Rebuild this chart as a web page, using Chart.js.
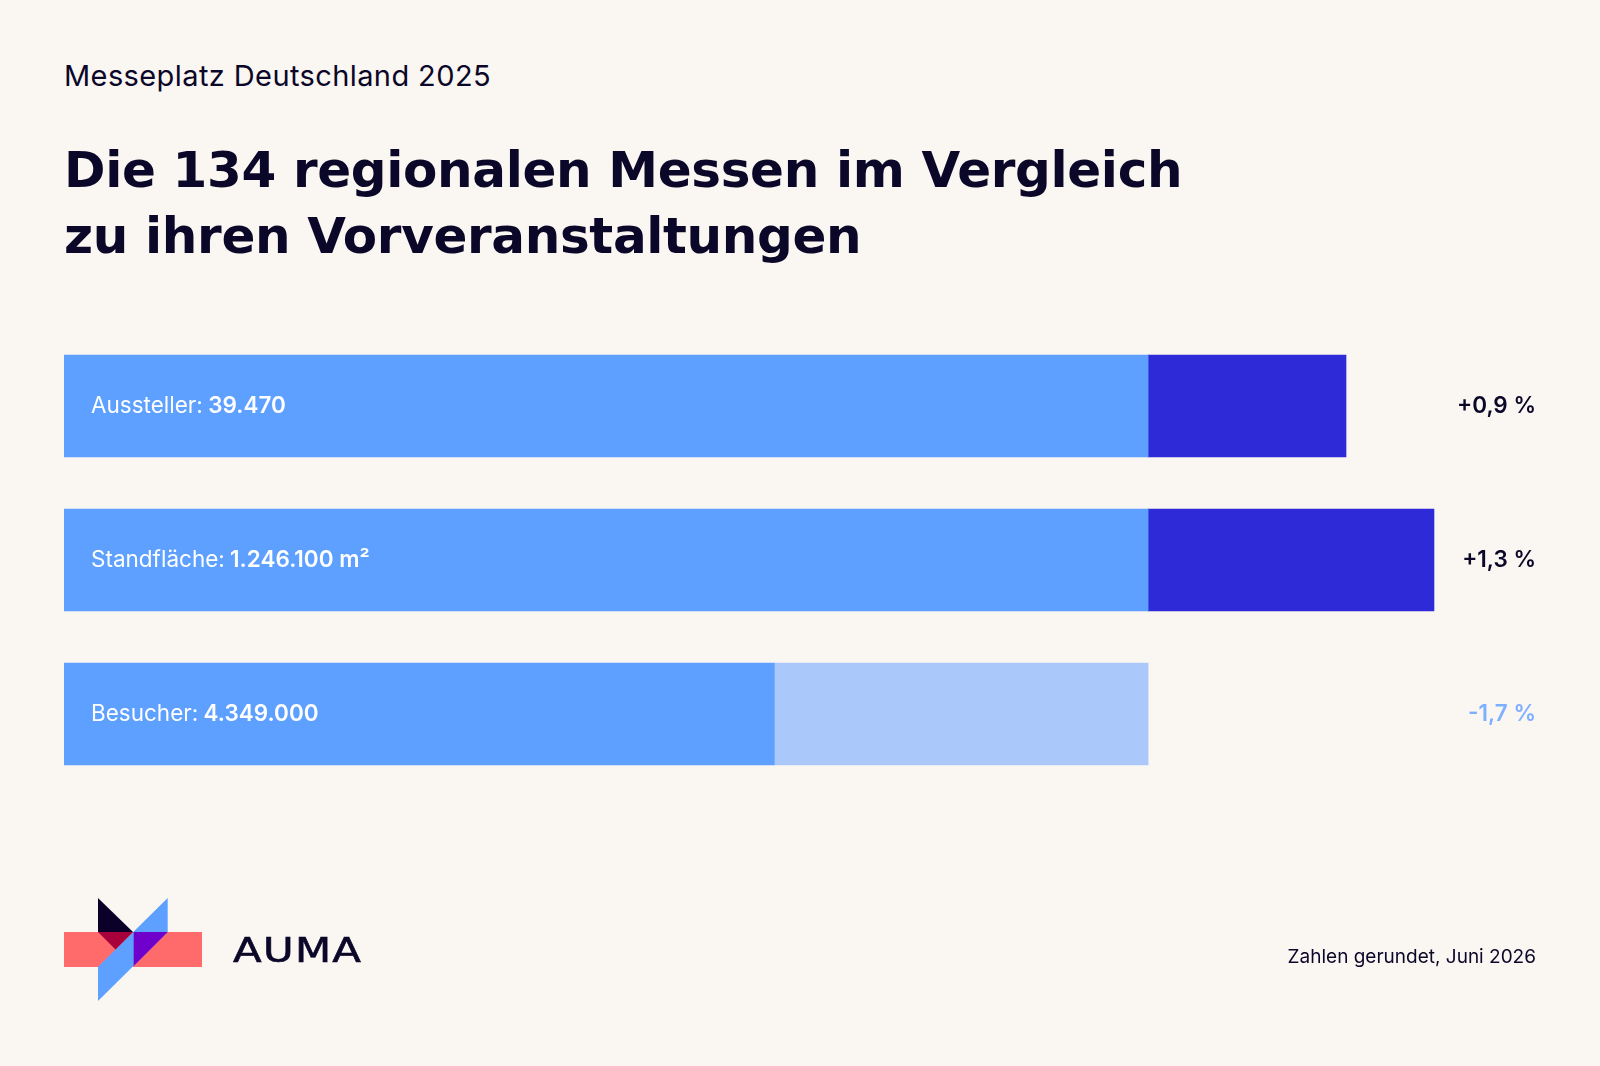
<!DOCTYPE html>
<html>
<head>
<meta charset="utf-8">
<script src="https://cdn.jsdelivr.net/npm/chart.js@4"></script>
<style>
  body { margin: 0; background: #faf6f2; }
  #page { position: relative; width: 1600px; height: 1066px; overflow: hidden; background: #faf6f2; color: #0b0728; }
  #chart { position: absolute; left: 0; top: 0; }
  .sub { position: absolute; left: 64px; top: 61px; font: 400 29px/1 Inter, sans-serif; letter-spacing: 0.4px; }
  .title { position: absolute; left: 64px; top: 137px; font: 700 50px/66px "DejaVu Sans", sans-serif; letter-spacing: -0.35px; }
  .note { position: absolute; right: 64px; top: 947px; font: 400 19px/1 Inter, sans-serif; }
  .brand { position: absolute; left: 233px; top: 934px; font: 400 33px/1 "DejaVu Sans", sans-serif;
           letter-spacing: 1px; transform: scaleX(1.27); transform-origin: left top; -webkit-text-stroke: 0.6px #0b0728; }
  #logo { position: absolute; left: 0; top: 0; }
</style>
</head>
<body>
<div id="page">
  <div class="sub">Messeplatz Deutschland 2025</div>
  <div class="title">Die 134 regionalen Messen im Vergleich<br>zu ihren Vorveranstaltungen</div>
  <canvas id="chart" width="1600" height="1066"></canvas>
  <svg id="logo" width="260" height="1066" viewBox="0 0 260 1066">
    <rect x="64" y="932" width="138" height="35" fill="#ff6b6b"/>
    <polygon points="167.7,898 167.7,932 98,1001 98,966.7" fill="#5ea0ff"/>
    <polygon points="98,898 133,932 98,932" fill="#0a0028"/>
    <polygon points="98,932 133,932 115.5,949.5" fill="#a8003a"/>
    <polygon points="133.7,932 167.7,932 133.7,966" fill="#7000cc"/>
  </svg>
  <div class="brand">AUMA</div>
  <div class="note">Zahlen gerundet, Juni 2026</div>
</div>
<script>
// Kennzahlen der regionalen Messen 2025
const categories = ['Aussteller', 'Standfläche', 'Besucher'];
const totals = [39470, 1246100, 4349000];
const units = ['', ' m²', ''];
const changes = [0.9, 1.3, -1.7]; // Veränderung zur Vorveranstaltung in %

// Darstellung: Grundbalken steht für die Vorveranstaltung (bis 0 %)
const BASE_SPAN = 4.93;
const AXIS_MAX = 1.764;

const COL_BASE = '#5ea0ff';
const COL_UP = '#2f2ad8';
const COL_DOWN = '#aac9fa';
const COL_TEXT = '#0b0728';
const COL_NEG_TEXT = '#7eb0ff';

const baseBars = changes.map(c => [-BASE_SPAN, Math.min(0, c)]);
const deltaBars = changes.map(c => c >= 0 ? [0, c] : [c, 0]);

const fmtPct = v => (v > 0 ? '+' : '') +
  v.toLocaleString('de-DE', { minimumFractionDigits: 1, maximumFractionDigits: 1 }) + ' %';

const labelPlugin = {
  id: 'barLabels',
  afterDatasetsDraw(chart) {
    const ctx = chart.ctx;
    const meta = chart.getDatasetMeta(0);
    const area = chart.chartArea;
    ctx.save();
    ctx.textBaseline = 'middle';
    meta.data.forEach((bar, i) => {
      const y = bar.y;
      // Beschriftung im Balken
      let x = area.left + 27;
      ctx.textAlign = 'left';
      ctx.fillStyle = '#ffffff';
      ctx.font = '400 22.5px Inter, sans-serif';
      const lead = categories[i] + ': ';
      ctx.fillText(lead, x, y);
      x += ctx.measureText(lead).width - 1;
      ctx.font = '600 22.5px Inter, sans-serif';
      ctx.fillText(totals[i].toLocaleString('de-DE') + units[i], x, y);
      // Veränderung rechts
      ctx.textAlign = 'right';
      ctx.font = '600 22.5px Inter, sans-serif';
      ctx.fillStyle = changes[i] >= 0 ? COL_TEXT : COL_NEG_TEXT;
      ctx.fillText(fmtPct(changes[i]), area.right, y);
    });
    ctx.restore();
  }
};

new Chart(document.getElementById('chart'), {
  type: 'bar',
  data: {
    labels: categories,
    datasets: [
      {
        label: 'Vorveranstaltung',
        data: baseBars,
        backgroundColor: COL_BASE,
        barThickness: 102,
        grouped: false
      },
      {
        label: 'Veränderung',
        data: deltaBars,
        backgroundColor: changes.map(c => c >= 0 ? COL_UP : COL_DOWN),
        barThickness: 102,
        grouped: false
      }
    ]
  },
  options: {
    indexAxis: 'y',
    responsive: false,
    animation: false,
    layout: { padding: { left: 64, right: 64, top: 329, bottom: 275 } },
    plugins: { legend: { display: false }, tooltip: { enabled: false } },
    scales: {
      x: { display: false, min: -BASE_SPAN, max: AXIS_MAX },
      y: { display: false }
    }
  },
  plugins: [labelPlugin]
});
</script>
</body>
</html>
